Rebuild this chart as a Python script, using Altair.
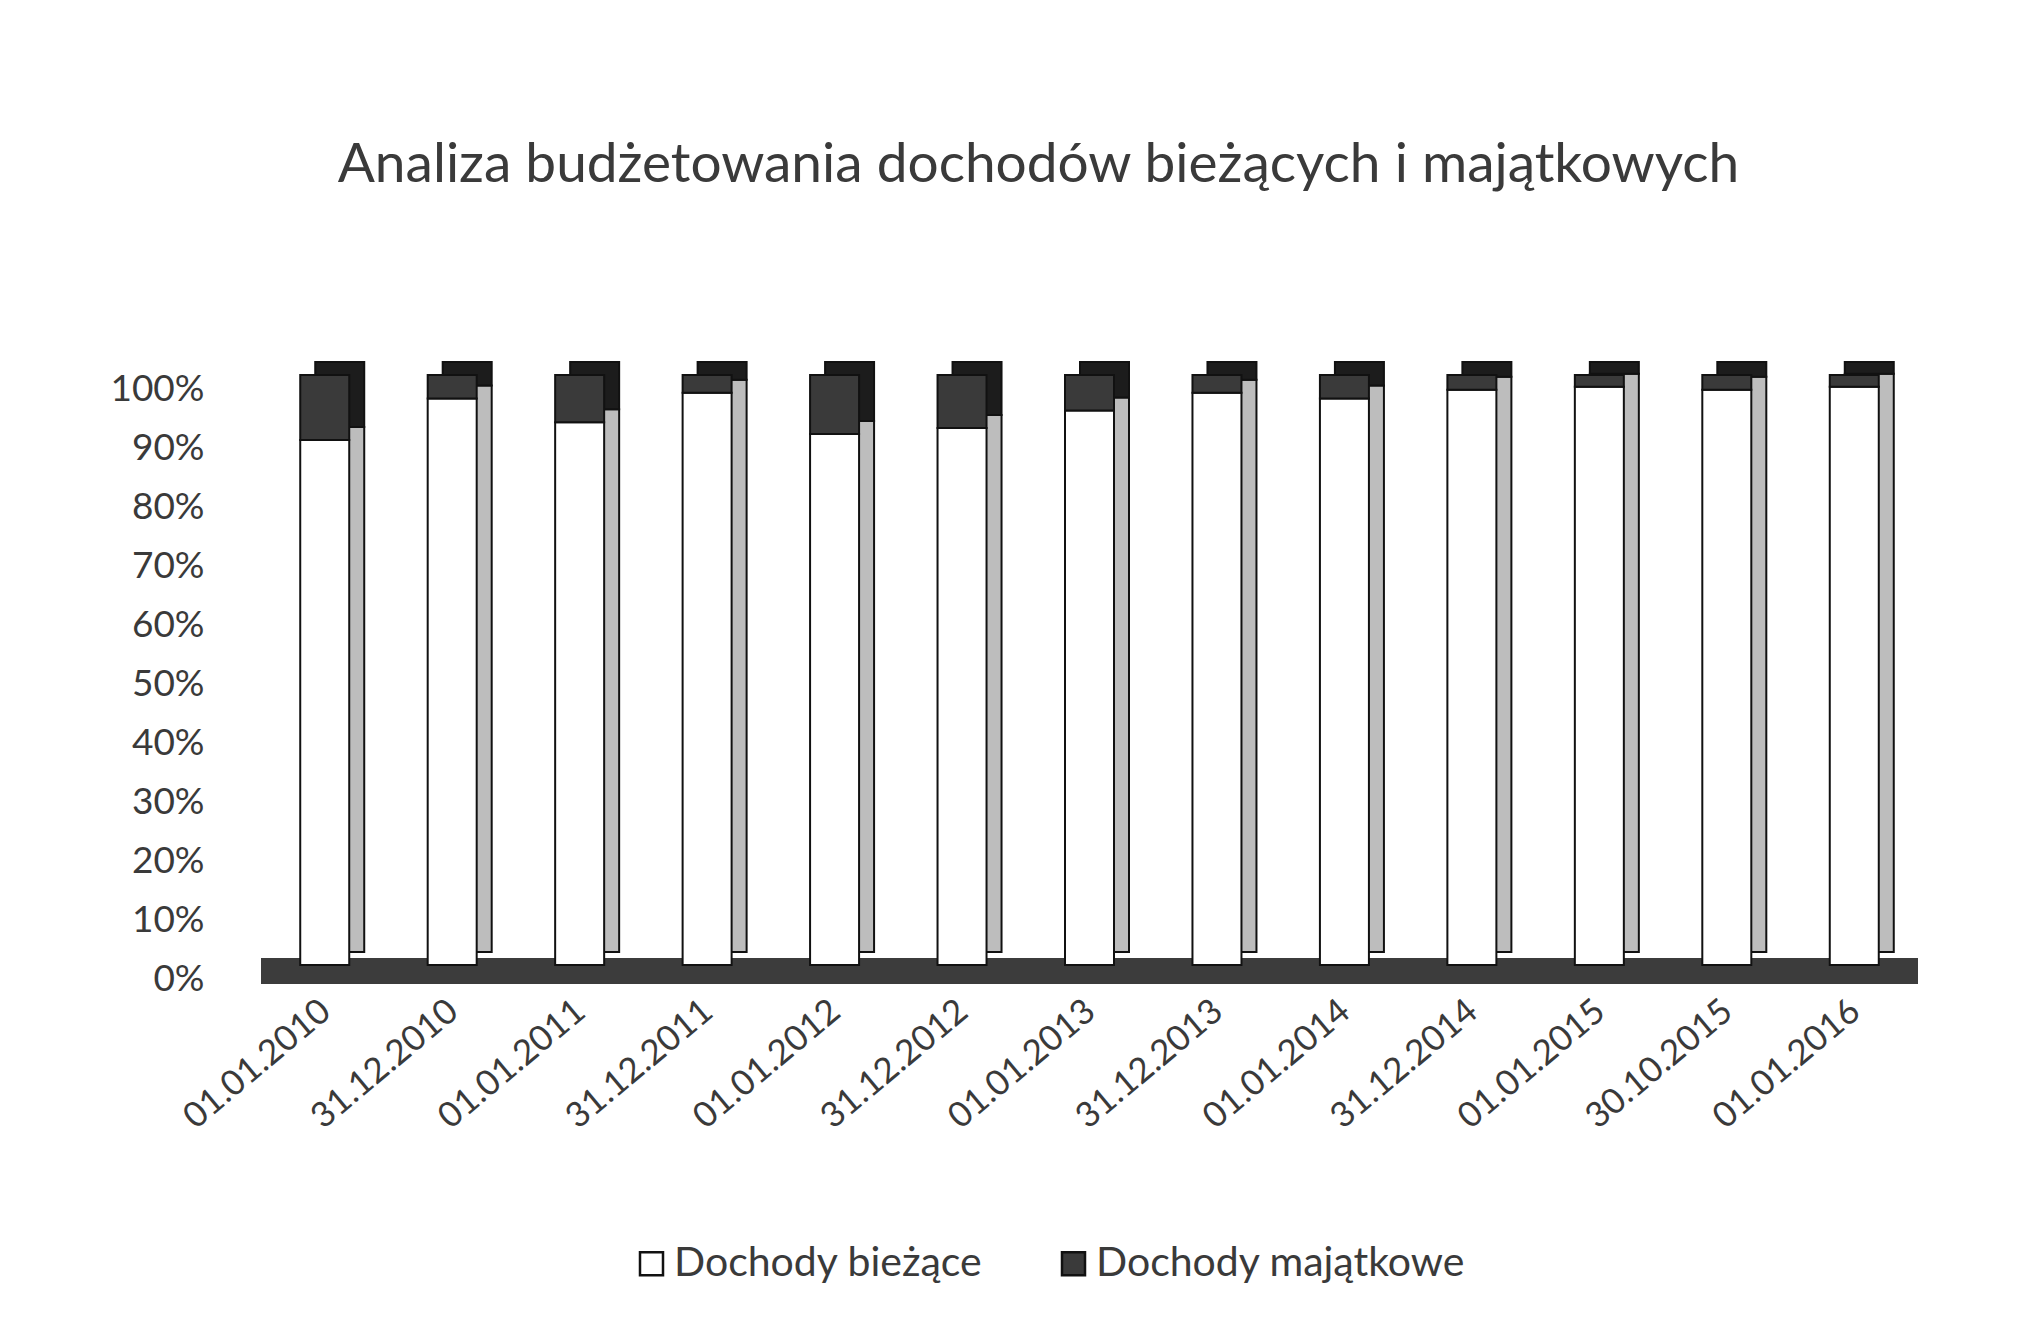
import altair as alt
import pandas as pd

dates = ["01.01.2010", "31.12.2010", "01.01.2011", "31.12.2011", "01.01.2012",
         "31.12.2012", "01.01.2013", "31.12.2013", "01.01.2014", "31.12.2014",
         "01.01.2015", "30.10.2015", "01.01.2016"]
biezace = [89, 96, 92, 97, 90, 91, 94, 97, 96, 97.5, 98, 97.5, 98]
majatkowe = [11, 4, 8, 3, 10, 9, 6, 3, 4, 2.5, 2, 2.5, 2]
series = ["Dochody bieżące", "Dochody majątkowe"]

rows = []
for d, b, m in zip(dates, biezace, majatkowe):
    rows.append({"data": d, "typ": series[0], "k": 0, "v": b})
    rows.append({"data": d, "typ": series[1], "k": 1, "v": m})
df = pd.DataFrame(rows)

FONT = "Lato"
TXT = "#3a3a3a"

x_enc = alt.X("data:N", sort=dates, title=None,
              scale=alt.Scale(paddingInner=0, paddingOuter=0),
              axis=alt.Axis(labelAngle=-40, labelFontSize=35, labelFont=FONT,
                            labelColor=TXT, labelPadding=28, ticks=False,
                            domain=False, labelAlign="right", labelBaseline="top",
                            labelLimit=400, labelOverlap=False, labelOffset=-10))
y_enc = alt.Y("v:Q", stack="normalize", title=None,
              axis=alt.Axis(format=".0%", values=[i / 10 for i in range(11)],
                            labelFontSize=37, labelFont=FONT, labelColor=TXT,
                            labelPadding=57, ticks=False, domain=False,
                            grid=False, labelOffset=14))

base = alt.Chart(df)

floor = base.mark_rule(color="#3c3c3c", strokeWidth=26, yOffset=6).encode(
    y=alt.datum(0, type="quantitative"))

back = base.mark_bar(size=49, xOffset=15, yOffset=-13, stroke="#111",
                     strokeWidth=2).encode(
    x=x_enc, y=y_enc,
    fill=alt.condition(alt.datum.typ == series[0], alt.value("#bdbdbd"),
                       alt.value("#1c1c1c")),
    order=alt.Order("k:Q"))

front = base.mark_bar(size=49, stroke="#111", strokeWidth=2).encode(
    x=x_enc, y=y_enc,
    fill=alt.Fill("typ:N", scale=alt.Scale(domain=series, range=["#ffffff", "#3a3a3a"]),
                  legend=alt.Legend(title=None, orient="none", legendX=370, legendY=868,
                                    direction="horizontal", symbolType="square",
                                    symbolSize=529, symbolStrokeColor="#111",
                                    symbolStrokeWidth=2.5, labelFontSize=41,
                                    labelFont=FONT, labelColor=TXT, labelLimit=600,
                                    columnPadding=70, symbolOffset=0, labelOffset=2)),
    order=alt.Order("k:Q"))

chart = alt.layer(floor, back, front).properties(
    width=1657, height=590,
    autosize=alt.AutoSizeParams(type="none"),
    padding={"left": 253, "top": 367, "right": 100, "bottom": 340},
    title=alt.TitleParams("Analiza budżetowania dochodów bieżących i majątkowych",
                          fontSize=55, font=FONT, fontWeight="normal", color=TXT,
                          offset=167, dx=-51, anchor="middle"),
    background="white",
).configure_view(stroke=None)

chart.save("out.html", embed_options={"renderer": "svg", "actions": False})
